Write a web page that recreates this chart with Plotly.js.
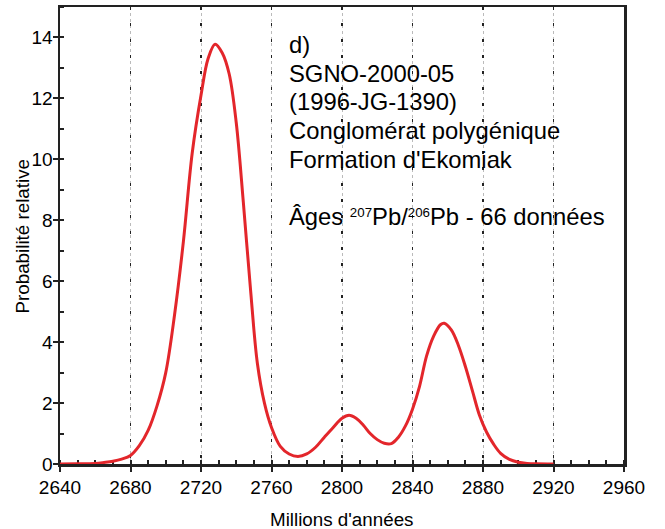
<!DOCTYPE html>
<html>
<head>
<meta charset="utf-8">
<script src="https://cdn.plot.ly/plotly-3.0.1.min.js"></script>
<style>html,body{margin:0;padding:0;background:#fff;}#chart{width:665px;height:529px;}</style>
</head>
<body>
<div id="chart"></div>
<script>
// Data
var ages = [2640, 2650, 2660, 2665, 2670, 2675, 2680, 2685, 2690, 2695, 2700, 2705, 2710, 2715, 2720, 2724, 2728, 2732, 2736, 2740, 2744, 2748, 2752, 2756, 2760, 2765, 2770, 2775, 2780, 2785, 2790, 2795, 2800, 2804, 2808, 2812, 2816, 2820, 2824, 2828, 2832, 2836, 2840, 2844, 2848, 2852, 2856, 2858, 2862, 2866, 2870, 2874, 2878, 2882, 2886, 2890, 2895, 2900, 2905, 2910, 2920];
var probability = [0, 0.005, 0.02, 0.05, 0.09, 0.16, 0.28, 0.6, 1.1, 1.9, 3.0, 4.9, 7.3, 10.2, 12.1, 13.3, 13.78, 13.5, 12.8, 11.2, 8.6, 5.8, 3.3, 2.0, 1.2, 0.58, 0.33, 0.25, 0.33, 0.55, 0.88, 1.2, 1.5, 1.6, 1.5, 1.28, 1.0, 0.8, 0.68, 0.67, 0.88, 1.25, 1.8, 2.55, 3.55, 4.2, 4.58, 4.62, 4.4, 3.9, 3.2, 2.4, 1.6, 1.05, 0.65, 0.35, 0.15, 0.06, 0.02, 0.005, 0];
var xTicks = [2640, 2680, 2720, 2760, 2800, 2840, 2880, 2920, 2960];
var yTicks = [0, 2, 4, 6, 8, 10, 12, 14];
var xTitle = "Millions d'années";
var yTitle = "Probabilité relative";
var infoLines = [
  "d)",
  "SGNO-2000-05",
  "(1996-JG-1390)",
  "Conglomérat polygénique",
  "Formation d'Ekomiak",
  "",
  "Âges <span style=\"font-size:19px\"><sup>207</sup></span>Pb/<span style=\"font-size:19px\"><sup>206</sup></span>Pb - 66 données"
];

var W = 665, H = 529, mL = 60, mR = 41, mT = 7, mB = 65;
var plotH = H - mT - mB, plotW = W - mL - mR;
function pyToPaper(py){ return (H - mB - py) / plotH; }
function pxToPaper(px){ return (px - mL) / plotW; }

var FONT = "Arial, 'Liberation Sans', sans-serif";

var traces = [
  {x: ages, y: probability, type: 'scatter', mode: 'lines',
   line: {color: '#e3262b', width: 3, shape: 'spline', smoothing: 1},
   hoverinfo: 'skip', showlegend: false},
  {x: [], y: [], xaxis: 'x2', yaxis: 'y2', type: 'scatter', mode: 'lines', showlegend: false, hoverinfo: 'skip'}
];

var annotations = [];
var lineStartY = 45, lineStep = 28.5;
infoLines.forEach(function(t, i){
  if (!t) return;
  annotations.push({
    text: t, xref: 'paper', yref: 'paper',
    x: pxToPaper(287), y: pyToPaper(lineStartY + i * lineStep),
    xanchor: 'left', yanchor: 'middle', showarrow: false,
    font: {family: FONT, size: 23.8, color: '#000'}
  });
});
annotations.push({
  text: xTitle, xref: 'paper', yref: 'paper',
  x: pxToPaper(341), y: pyToPaper(519), xanchor: 'center', yanchor: 'middle',
  showarrow: false, font: {family: FONT, size: 18.8, color: '#000'}
});
annotations.push({
  text: yTitle, xref: 'paper', yref: 'paper', textangle: -90,
  x: pxToPaper(22), y: pyToPaper(236.5), xanchor: 'center', yanchor: 'middle',
  showarrow: false, font: {family: FONT, size: 18.8, color: '#000'}
});

var layout = {
  width: W, height: H,
  margin: {l: mL, r: mR, t: mT, b: mB, pad: 0},
  paper_bgcolor: '#fff', plot_bgcolor: '#fff',
  font: {family: FONT, color: '#000'},
  showlegend: false,
  xaxis: {
    range: [2640, 2960], tickmode: 'array', tickvals: xTicks, ticktext: xTicks.map(String),
    ticks: 'outside', ticklen: 5, tickwidth: 2, tickcolor: '#222',
    minor: {ticks: 'inside', dtick: 10, ticklen: 4, tickwidth: 2, tickcolor: '#222', showgrid: false},
    showline: true, linecolor: '#222', linewidth: 2.5, mirror: true,
    showgrid: true, gridcolor: '#bbbbbb', gridwidth: 1, griddash: 'dot',
    zeroline: false, layer: 'below traces',
    tickfont: {family: FONT, size: 19, color: '#000'}
  },
  yaxis: {
    range: [0, 15], tickmode: 'array', tickvals: yTicks, ticktext: yTicks.map(String),
    ticks: 'outside', ticklen: 5, tickwidth: 2, tickcolor: '#222',
    minor: {ticks: 'inside', dtick: 1, ticklen: 4, tickwidth: 2, tickcolor: '#222', showgrid: false},
    showline: true, linecolor: '#222', linewidth: 2.5, mirror: true,
    showgrid: false, zeroline: false, layer: 'below traces',
    ticklabelstandoff: -4,
    tickfont: {family: FONT, size: 19, color: '#000'}
  },
  xaxis2: {
    overlaying: 'x', anchor: 'y2', side: 'bottom', range: [2640, 2960],
    tickmode: 'array', tickvals: xTicks, showticklabels: false,
    ticks: 'inside', ticklen: 4, tickwidth: 2, tickcolor: '#222',
    showline: false, zeroline: false,
    showgrid: true, gridcolor: '#222', gridwidth: 1.5, griddash: '3px,13px', layer: 'below traces'
  },
  yaxis2: {
    overlaying: 'y', anchor: 'x2', side: 'left', range: [0, 15],
    tickmode: 'array', tickvals: yTicks, showticklabels: false,
    ticks: 'inside', ticklen: 4, tickwidth: 2, tickcolor: '#222',
    showline: false, zeroline: false, showgrid: false, layer: 'below traces'
  },
  annotations: annotations
};

Plotly.newPlot('chart', traces, layout, {displayModeBar: false, staticPlot: true});
</script>
</body>
</html>
